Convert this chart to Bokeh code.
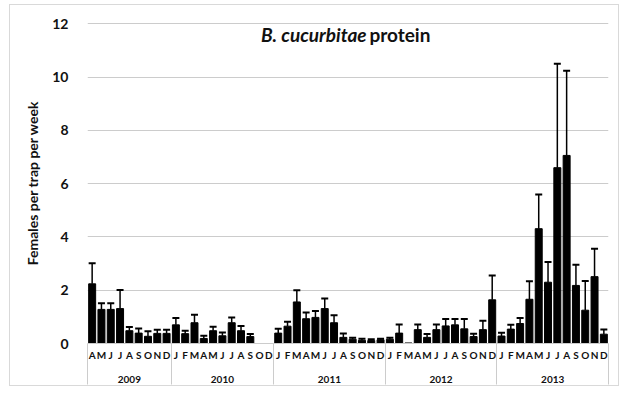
from bokeh.plotting import figure
from bokeh.models import (ColumnDataSource, Range1d, FixedTicker, LinearAxis,
                          Whisker, TeeHead, Label)
from bokeh.embed import file_html
from bokeh.resources import INLINE

# ---- data -------------------------------------------------------------
years = ["2009", "2010", "2011", "2012", "2013"]
months_2009 = ["A", "M", "J", "J", "A", "S", "O", "N", "D"]
months_2010 = ["J", "F", "M", "A", "M", "J", "J", "A", "S", "O", "D"]
months_2011 = ["J", "F", "M", "A", "M", "J", "J", "A", "S", "O", "N", "D"]
months_2012 = ["J", "F", "M", "A", "M", "J", "J", "A", "S", "O", "N", "D"]
months_2013 = ["J", "F", "M", "A", "M", "J", "J", "A", "S", "O", "N", "D"]

mean_2009 = [2.24, 1.28, 1.28, 1.31, 0.48, 0.39, 0.27, 0.38, 0.38]
mean_2010 = [0.70, 0.37, 0.78, 0.19, 0.48, 0.29, 0.78, 0.48, 0.26, 0.0, 0.0]
mean_2011 = [0.39, 0.65, 1.56, 0.93, 0.98, 1.31, 0.78, 0.23, 0.16, 0.12, 0.11, 0.14]
mean_2012 = [0.16, 0.39, 0.02, 0.52, 0.23, 0.52, 0.66, 0.70, 0.55, 0.26, 0.52, 1.64]
mean_2013 = [0.28, 0.54, 0.75, 1.66, 4.31, 2.30, 6.60, 7.06, 2.18, 1.25, 2.51, 0.35]

se_2009 = [0.77, 0.23, 0.23, 0.70, 0.14, 0.17, 0.19, 0.14, 0.14]
se_2010 = [0.26, 0.11, 0.30, 0.10, 0.15, 0.12, 0.20, 0.18, 0.10, 0.0, 0.0]
se_2011 = [0.16, 0.17, 0.44, 0.23, 0.24, 0.38, 0.28, 0.15, 0.06, 0.06, 0.05, 0.04]
se_2012 = [0.06, 0.32, 0.0, 0.19, 0.13, 0.19, 0.26, 0.22, 0.37, 0.11, 0.33, 0.91]
se_2013 = [0.12, 0.16, 0.21, 0.68, 1.28, 0.76, 3.90, 3.18, 0.78, 1.10, 1.05, 0.18]

y_ticks = [0, 2, 4, 6, 8, 10, 12]

month_groups = [months_2009, months_2010, months_2011, months_2012, months_2013]
mean_groups = [mean_2009, mean_2010, mean_2011, mean_2012, mean_2013]
se_groups = [se_2009, se_2010, se_2011, se_2012, se_2013]

# ---- build tables -------------------------------------------------------
xs, tops, uppers, letters = [], [], [], []
year_centers, dividers = [], [-0.5]
i = 0
for mg, vg, eg in zip(month_groups, mean_groups, se_groups):
    start = i
    for m, v, e in zip(mg, vg, eg):
        xs.append(i); tops.append(v); uppers.append(v + e); letters.append(m)
        i += 1
    year_centers.append((start + i - 1) / 2)
    dividers.append(i - 0.5)

src = ColumnDataSource(dict(x=xs, top=tops))
wx = [x for x, t, u in zip(xs, tops, uppers) if u > t]
wt = [t for t, u in zip(tops, uppers) if u > t]
wu = [u for t, u in zip(tops, uppers) if u > t]
wsrc = ColumnDataSource(dict(x=wx, top=wt, upper=wu))

TXT = "#111111"
FONT = "Lato"
GRID = "#cccccc"

p = figure(width=610, height=382, output_backend="svg", toolbar_location=None,
           x_range=Range1d(-0.5, len(xs) - 0.5), y_range=Range1d(0, 12.05),
           min_border_left=77, min_border_right=12, min_border_top=17,
           min_border_bottom=44)
p.styles = {"border": "1px solid #d9d9d9", "margin-left": "9px", "margin-top": "4px"}
p.outline_line_color = None

# horizontal gridlines
yticker = FixedTicker(ticks=y_ticks)
p.ygrid.ticker = yticker
p.ygrid.grid_line_color = GRID
p.ygrid.grid_line_width = 1
p.xgrid.grid_line_color = None

p.vbar(x="x", top="top", width=0.75, source=src, color="black")

w = Whisker(source=wsrc, base="x", lower="top", upper="upper", dimension="height",
            line_color="black", line_width=1.5,
            upper_head=TeeHead(size=7, line_width=2, line_color="black"),
            lower_head=None, level="overlay")
p.add_layout(w)

# y axis
p.yaxis.ticker = yticker
p.yaxis.axis_line_color = None
p.yaxis.major_tick_line_color = None
p.yaxis.minor_tick_line_color = None
p.yaxis.major_label_text_font = FONT
p.yaxis.major_label_text_font_style = "bold"
p.yaxis.major_label_text_font_size = "14px"
p.yaxis.major_label_text_color = TXT
p.yaxis.major_label_standoff = 13
p.yaxis.axis_label = "Females per trap per week"
p.yaxis.axis_label_text_font = FONT
p.yaxis.axis_label_text_font_style = "bold"
p.yaxis.axis_label_text_font_size = "14px"
p.yaxis.axis_label_text_color = TXT
p.yaxis.axis_label_standoff = 8

# x axis: month letters, dividers as long minor ticks
xa = p.xaxis[0]
xa.ticker = FixedTicker(ticks=xs, minor_ticks=dividers)
xa.major_label_overrides = {x: l for x, l in zip(xs, letters)}
xa.axis_line_color = GRID
xa.major_tick_line_color = None
xa.major_tick_out = 0
xa.major_tick_in = 0
xa.minor_tick_line_color = GRID
xa.minor_tick_out = 41
xa.minor_tick_in = 0
xa.major_label_text_font = FONT
xa.major_label_text_font_style = "bold"
xa.major_label_text_font_size = "10px"
xa.major_label_text_color = TXT
xa.major_label_standoff = -36

# second x axis: year labels
ya = LinearAxis(ticker=FixedTicker(ticks=year_centers, minor_ticks=[]))
ya.major_label_overrides = {c: y for c, y in zip(year_centers, years)}
ya.axis_line_color = None
ya.major_tick_line_color = None
ya.minor_tick_line_color = None
ya.major_tick_out = 0
ya.major_tick_in = 0
ya.major_label_text_font = FONT
ya.major_label_text_font_style = "bold"
ya.major_label_text_font_size = "10px"
ya.major_label_text_color = TXT
ya.major_label_standoff = 12
p.add_layout(ya, "below")

# title inside the plot
t1 = Label(x=29.5, y=11.6, text="B. cucurbitae", text_align="right",
           text_baseline="middle", text_font=FONT, text_font_style="bold italic",
           text_font_size="19px", text_color=TXT)
t2 = Label(x=29.8, y=11.6, text="protein", text_align="left",
           text_baseline="middle", text_font=FONT, text_font_style="bold",
           text_font_size="19px", text_color=TXT)
p.add_layout(t1)
p.add_layout(t2)

open("out.html", "w").write(file_html(p, INLINE))
